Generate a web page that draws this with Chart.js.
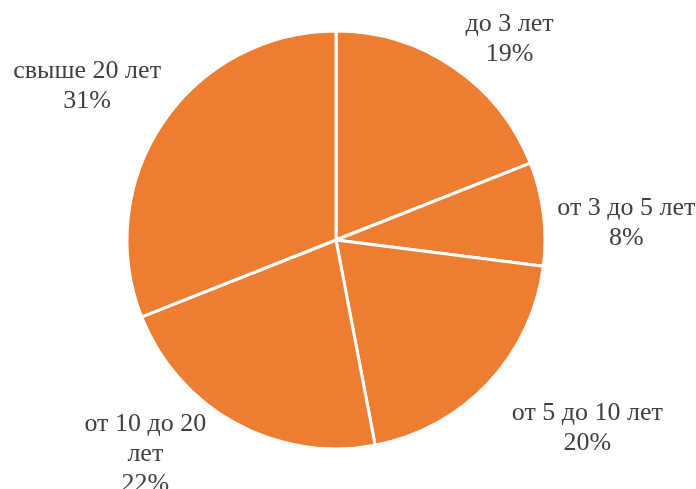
<!DOCTYPE html>
<html>
<head>
<meta charset="utf-8">
<script src="https://cdn.jsdelivr.net/npm/chart.js@4/dist/chart.umd.min.js"></script>
<style>
  html, body { margin: 0; padding: 0; background: #fff; }
  #wrap { width: 696px; height: 489px; }
</style>
</head>
<body>
<div id="wrap"><canvas id="pieChart" width="696" height="489"></canvas></div>
<script>
// -------------------------------
// DADOS
// -------------------------------
const categories = ["до 3 лет", "от 3 до 5 лет", "от 5 до 10 лет", "от 10 до 20 лет", "свыше 20 лет"];
const labelLines = [["до 3 лет"], ["от 3 до 5 лет"], ["от 5 до 10 лет"], ["от 10 до 20", "лет"], ["свыше 20 лет"]];
const shares = [19, 8, 20, 22, 31];

// -------------------------------
// RÓTULOS FORA DA PIZZA
// -------------------------------
const outsideLabels = {
  id: "outsideLabels",
  afterDatasetsDraw(chart, args, opts) {
    const ctx = chart.ctx;
    const meta = chart.getDatasetMeta(0);
    ctx.save();
    ctx.font = opts.font;
    ctx.fillStyle = opts.color;
    ctx.textAlign = "center";
    ctx.textBaseline = "middle";
    meta.data.forEach((arc, i) => {
      const mid = (arc.startAngle + arc.endAngle) / 2;
      const off = opts.offsets[i];
      const x = arc.x + Math.cos(mid) * arc.outerRadius + off[0];
      const y = arc.y + Math.sin(mid) * arc.outerRadius + off[1];
      const lines = labelLines[i].concat([shares[i] + "%"]);
      const top = y - ((lines.length - 1) * opts.lineHeight) / 2;
      lines.forEach((line, j) => {
        ctx.fillText(line, x, top + j * opts.lineHeight);
      });
    });
    ctx.restore();
  }
};

new Chart(document.getElementById("pieChart"), {
  type: "pie",
  data: {
    labels: categories,
    datasets: [{
      data: shares,
      backgroundColor: "#ed7d31",
      borderColor: "#ffffff",
      borderWidth: 3
    }]
  },
  options: {
    responsive: false,
    animation: false,
    radius: 209,
    layout: { padding: { left: 127, right: 151, top: 31, bottom: 40 } },
    plugins: {
      legend: { display: false },
      tooltip: { enabled: false },
      outsideLabels: {
        font: "26px 'Liberation Serif', 'Times New Roman', serif",
        color: "#404040",
        lineHeight: 30,
        offsets: [[56, -28], [83, 9], [99, 45], [-90, 31], [-76, -36]]
      }
    }
  },
  plugins: [outsideLabels]
});
</script>
</body>
</html>
